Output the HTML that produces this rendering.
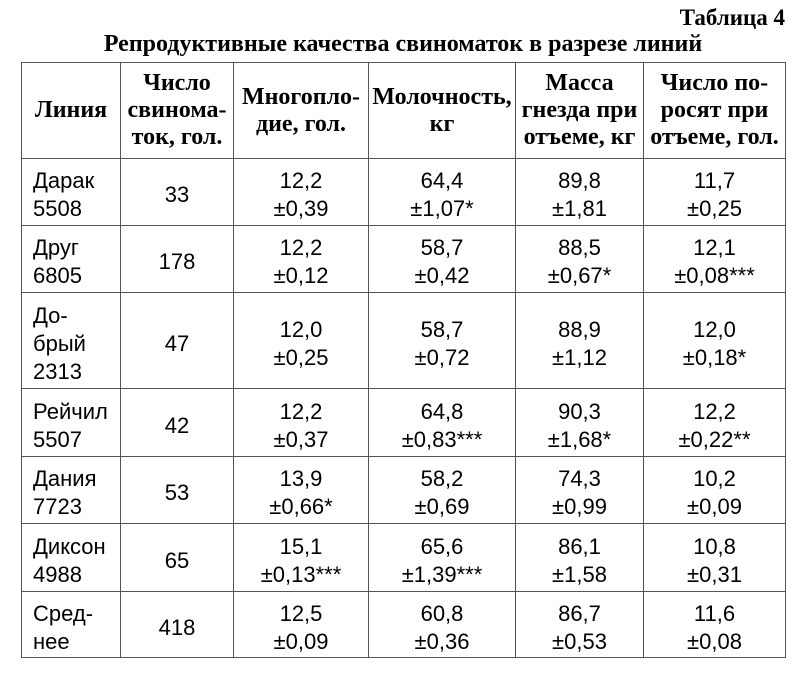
<!DOCTYPE html>
<html><head><meta charset="utf-8"><style>
body{margin:0;width:804px;height:676px;background:#fff;font-family:"Liberation Serif",serif;color:#000;position:relative;overflow:hidden}
.t4{position:absolute;right:19px;top:5px;font-weight:bold;font-size:23px}
.ttl{position:absolute;left:0;width:806px;text-align:center;top:31px;font-weight:bold;font-size:24px}
table{position:absolute;left:21px;top:62px;border-collapse:collapse;table-layout:fixed}
td,th{border:1.5px solid #555;padding:0;text-align:center;vertical-align:middle}
td{font-family:"Liberation Sans",sans-serif;font-size:22px;line-height:28px;padding-top:6px;box-sizing:border-box}
th{font-weight:bold;font-size:24px;line-height:27px;white-space:nowrap}
td.l{text-align:left;padding-left:11px}
</style></head><body>
<div class="t4">Таблица 4</div>
<div class="ttl">Репродуктивные качества свиноматок в разрезе линий</div>
<table>
<colgroup><col style="width:99px"><col style="width:113px"><col style="width:135px"><col style="width:147px"><col style="width:128px"><col style="width:142px"></colgroup>
<tr style="height:96px"><th>Линия</th><th>Число<br>свинома-<br>ток, гол.</th><th>Многопло-<br>дие, гол.</th><th>Молочность,<br>кг</th><th>Масса<br>гнезда при<br>отъеме, кг</th><th>Число по-<br>росят при<br>отъеме, гол.</th></tr>
<tr style="height:67px"><td class="l">Дарак<br>5508</td><td>33</td><td>12,2<br>±0,39</td><td>64,4<br>±1,07*</td><td>89,8<br>±1,81</td><td>11,7<br>±0,25</td></tr>
<tr style="height:67px"><td class="l">Друг<br>6805</td><td>178</td><td>12,2<br>±0,12</td><td>58,7<br>±0,42</td><td>88,5<br>±0,67*</td><td>12,1<br>±0,08***</td></tr>
<tr style="height:96px"><td class="l">До-<br>брый<br>2313</td><td>47</td><td>12,0<br>±0,25</td><td>58,7<br>±0,72</td><td>88,9<br>±1,12</td><td>12,0<br>±0,18*</td></tr>
<tr style="height:68px"><td class="l">Рейчил<br>5507</td><td>42</td><td>12,2<br>±0,37</td><td>64,8<br>±0,83***</td><td>90,3<br>±1,68*</td><td>12,2<br>±0,22**</td></tr>
<tr style="height:67px"><td class="l">Дания<br>7723</td><td>53</td><td>13,9<br>±0,66*</td><td>58,2<br>±0,69</td><td>74,3<br>±0,99</td><td>10,2<br>±0,09</td></tr>
<tr style="height:68px"><td class="l">Диксон<br>4988</td><td>65</td><td>15,1<br>±0,13***</td><td>65,6<br>±1,39***</td><td>86,1<br>±1,58</td><td>10,8<br>±0,31</td></tr>
<tr style="height:66px"><td class="l">Сред-<br>нее</td><td>418</td><td>12,5<br>±0,09</td><td>60,8<br>±0,36</td><td>86,7<br>±0,53</td><td>11,6<br>±0,08</td></tr>
</table>
</body></html>
